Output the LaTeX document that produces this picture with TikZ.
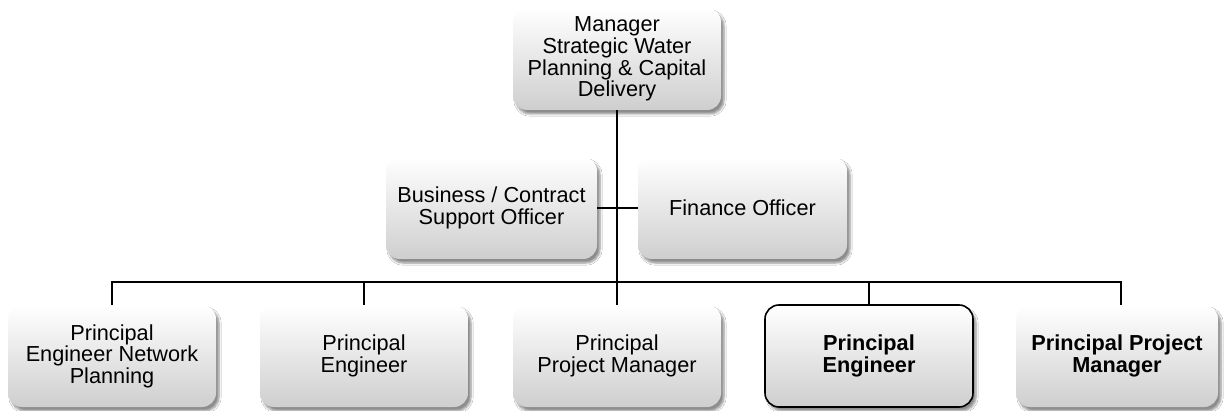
\documentclass[tikz,border=0pt]{standalone}
\usepackage{fontspec}
\setmainfont{Liberation Sans}
\usetikzlibrary{shadows.blur}
\tikzset{
  orgbox/.style={rounded corners=14pt, minimum width=208pt, minimum height=102pt,
    inner sep=2pt, align=center, font=\fontsize{21.7}{21.6}\selectfont,
    top color=white, bottom color=gray!38, draw=none,
    blur shadow={shadow xshift=3pt, shadow yshift=-4pt, shadow blur steps=6, shadow opacity=45}},
  hilite/.style={draw=black, line width=1.6pt},
  conn/.style={line width=1.8pt, draw=black}
}
\begin{document}
\begin{tikzpicture}[x=1pt,y=-1pt]
\useasboundingbox[fill=white] (0,0) rectangle (1225,411);
\node[orgbox] (top) at (617,59) {Manager\\Strategic Water\\Planning \& Capital\\Delivery};
\node[orgbox, minimum width=211pt] (bus1) at (491.5,208) {Business / Contract\\Support Officer};
\node[orgbox, minimum width=209pt] (fin) at (742.5,208) {Finance Officer};
\node[orgbox] (b1) at (112,356) {Principal\\Engineer Network\\Planning};
\node[orgbox] (b2) at (364,356) {Principal\\Engineer};
\node[orgbox] (b3) at (617,356) {Principal\\Project Manager};
\node[orgbox, hilite] (b4) at (869,356) {\textbf{Principal}\\\textbf{Engineer}};
\node[orgbox, minimum width=202pt] (b5) at (1117,356) {\textbf{Principal Project}\\\textbf{Manager}};
\coordinate (bus) at (617,282);
\draw[conn] (top.south) -- (b3.north);
\draw[conn] (bus1.east) -- (fin.west);
\draw[conn] (b1.north) |- (bus) -| ([xshift=4pt]b5.north);
\draw[conn] (b2.north) -- (b2.north |- bus);
\draw[conn] (b4.north) -- (b4.north |- bus);
\end{tikzpicture}
\end{document}
